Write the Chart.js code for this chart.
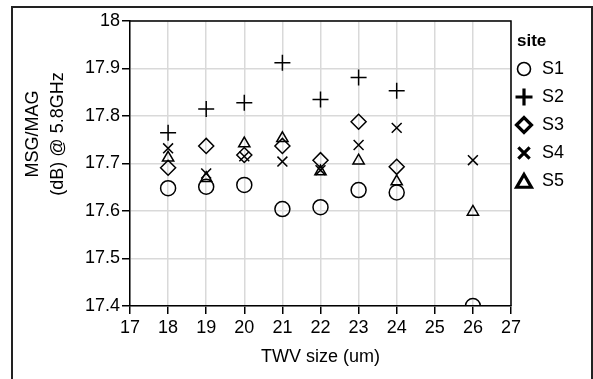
<!DOCTYPE html>
<html>
<head>
<meta charset="utf-8">
<script src="https://cdn.jsdelivr.net/npm/chart.js@4.4.1/dist/chart.umd.min.js"></script>
<style>
  body { margin: 0; background: #fff; }
  #wrap { position: relative; width: 593px; height: 379px; overflow: hidden; }
  #frame { position: absolute; left: 11px; top: 6px; width: 578px; height: 400px;
           border: 2px solid #222; border-bottom: none; pointer-events: none; }
</style>
</head>
<body>
<div id="wrap">
  <canvas id="chart" width="593" height="379"></canvas>
  <div id="frame"></div>
</div>
<script>
// TWV size (um) on x, MSG/MAG (dB) @ 5.8GHz on y
var sizes = [18, 19, 20, 21, 22, 23, 24, 26]
var s1 = [17.648, 17.651, 17.655, 17.604, 17.608, 17.644, 17.639, 17.400]
var s2 = [17.765, 17.815, 17.828, 17.912, 17.835, 17.881, 17.853, null]
var s3 = [17.691, 17.737, 17.718, 17.737, 17.707, 17.788, 17.693, null]
var s4 = [17.732, 17.679, 17.715, 17.704, 17.686, 17.739, 17.775, 17.707]
var s5 = [17.712, 17.669, 17.742, 17.753, 17.683, 17.706, 17.662, 17.598]
var siteNames = ['S1', 'S2', 'S3', 'S4', 'S5']
var xTicks = [17, 18, 19, 20, 21, 22, 23, 24, 25, 26, 27]
var yTicks = ['17.4', '17.5', '17.6', '17.7', '17.8', '17.9', '18']

var FONT = "'Liberation Sans', Arial, sans-serif"
var styles = [
  { pointStyle: 'circle', radius: 7.5 },
  { pointStyle: 'cross', radius: 8 },
  { pointStyle: 'rectRot', radius: 7.5 },
  { pointStyle: 'crossRot', radius: 7 },
  { pointStyle: 'triangle', radius: 6.5 }
]
// bolder symbols for the legend
var legendStyles = [
  { pointStyle: 'circle', radius: 6.5, borderWidth: 1.6 },
  { pointStyle: 'cross', radius: 8.5, borderWidth: 3.2 },
  { pointStyle: 'rectRot', radius: 7.5, borderWidth: 3.2 },
  { pointStyle: 'crossRot', radius: 8, borderWidth: 3.2 },
  { pointStyle: 'triangle', radius: 8.5, borderWidth: 3.2 }
]

function toPoints(vals) {
  var pts = []
  vals.forEach(function (v, i) {
    if (v !== null) pts.push({ x: sizes[i], y: v })
  })
  return pts
}

var series = [s1, s2, s3, s4, s5]
var datasets = series.map(function (vals, i) {
  return {
    label: siteNames[i],
    data: toPoints(vals),
    pointStyle: styles[i].pointStyle,
    pointRadius: styles[i].radius,
    pointHoverRadius: styles[i].radius,
    pointBorderWidth: 1.5,
    pointHoverBorderWidth: 1.5,
    pointBorderColor: '#000',
    pointBackgroundColor: 'rgba(0,0,0,0)',
    clip: 0
  }
})

// top/right box line, axis titles and the legend
var extras = {
  id: 'extras',
  afterDraw: function (chart) {
    var ctx = chart.ctx
    var a = chart.chartArea
    ctx.save()
    ctx.strokeStyle = '#000'
    ctx.lineWidth = 1.5
    ctx.beginPath()
    ctx.moveTo(a.left, a.top)
    ctx.lineTo(a.right, a.top)
    ctx.lineTo(a.right, a.bottom)
    ctx.stroke()

    ctx.fillStyle = '#000'
    ctx.font = '18px ' + FONT
    ctx.textAlign = 'center'
    ctx.textBaseline = 'middle'
    ctx.fillText('TWV size (um)', (a.left + a.right) / 2, 357)

    ctx.save()
    ctx.translate(33, 134)
    ctx.rotate(-Math.PI / 2)
    ctx.fillText('MSG/MAG', 0, 0)
    ctx.restore()
    ctx.save()
    ctx.translate(58, 134)
    ctx.rotate(-Math.PI / 2)
    ctx.fillText('(dB) @ 5.8GHz', 0, 0)
    ctx.restore()

    // legend
    ctx.textAlign = 'left'
    ctx.font = 'bold 17px ' + FONT
    ctx.fillText('site', 517, 41)
    ctx.font = '18px ' + FONT
    chart.data.datasets.forEach(function (ds, i) {
      var y = 69 + i * 28
      var ls = legendStyles[i]
      ctx.strokeStyle = '#000'
      ctx.fillStyle = 'rgba(0,0,0,0)'
      ctx.lineWidth = ls.borderWidth
      Chart.helpers.drawPoint(ctx, {
        pointStyle: ls.pointStyle, radius: ls.radius, rotation: 0, borderWidth: ls.borderWidth
      }, 524, y + (ls.pointStyle === 'triangle' ? 2 : 0))
      ctx.fillStyle = '#000'
      ctx.fillText(ds.label, 542, y)
    })
    ctx.restore()
  }
}

const ctx1 = document.getElementById('chart').getContext('2d')
const myChart = new Chart(ctx1, {
  type: 'scatter',
  data: { datasets: datasets },
  options: {
    responsive: false,
    animation: false,
    events: [],
    layout: { padding: { left: 0, right: 82, top: 21, bottom: 0 } },
    plugins: { legend: { display: false }, tooltip: { enabled: false } },
    scales: {
      x: {
        type: 'linear',
        min: xTicks[0],
        max: xTicks[xTicks.length - 1],
        afterFit: function (s) { s.height = 73 },
        afterBuildTicks: function (s) { s.ticks = xTicks.map(function (v) { return { value: v } }) },
        ticks: { color: '#000', font: { family: FONT, size: 18 }, padding: 3, maxRotation: 0, autoSkip: false,
                 callback: function (v) { return String(v) } },
        grid: { color: '#d9d9d9', lineWidth: 1.5, tickColor: '#000', tickLength: 8, tickWidth: 1.5 },
        border: { color: '#000', width: 1.5 }
      },
      y: {
        min: Number(yTicks[0]),
        max: Number(yTicks[yTicks.length - 1]),
        afterFit: function (s) { s.width = 130 },
        afterBuildTicks: function (s) { s.ticks = yTicks.map(function (v) { return { value: Number(v) } }) },
        ticks: { color: '#000', font: { family: FONT, size: 18 }, padding: 2, autoSkip: false,
                 callback: function (v) { return yTicks.find(function (t) { return Math.abs(Number(t) - v) < 1e-6 }) } },
        grid: { color: '#d9d9d9', lineWidth: 1.5, tickColor: '#000', tickLength: 8, tickWidth: 1.5 },
        border: { color: '#000', width: 1.5 }
      }
    }
  },
  plugins: [extras]
})
</script>
</body>
</html>
